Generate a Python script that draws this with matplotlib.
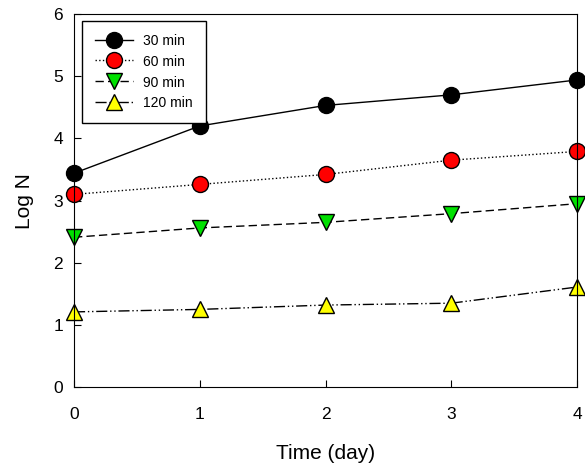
import matplotlib
matplotlib.use("Agg")
import matplotlib.pyplot as plt

plt.rcParams["font.family"] = ["Liberation Sans", "DejaVu Sans"]

days = [0, 1, 2, 3, 4]
log_n_30 = [3.44, 4.20, 4.53, 4.70, 4.94]
log_n_60 = [3.10, 3.26, 3.42, 3.65, 3.79]
log_n_90 = [2.41, 2.56, 2.65, 2.79, 2.95]
log_n_120 = [1.21, 1.25, 1.32, 1.35, 1.61]

fig = plt.figure(figsize=(5.85, 4.67), dpi=100)
ax = fig.add_axes([0.1265, 0.171, 0.860, 0.799])

ax.plot(days, log_n_30, color="black", linestyle="-", linewidth=1,
        marker="o", markersize=11.5, markerfacecolor="black",
        markeredgecolor="black", label="30 min", clip_on=False)
ax.plot(days, log_n_60, color="black", linestyle=":", linewidth=1,
        marker="o", markersize=11.5, markerfacecolor="red",
        markeredgecolor="black", label="60 min", clip_on=False)
ax.plot(days, log_n_90, color="black", linestyle=(0, (6, 3)), linewidth=1,
        marker="v", markersize=11.5, markerfacecolor="#00e000",
        markeredgecolor="black", label="90 min", clip_on=False)
ax.plot(days, log_n_120, color="black", linestyle=(0, (8, 2, 1, 2, 1, 2)),
        linewidth=1, marker="^", markersize=11.5, markerfacecolor="yellow",
        markeredgecolor="black", label="120 min", clip_on=False)

ax.set_xlim(0, 4)
ax.set_ylim(0, 6)
ax.set_xticks(days)
ax.set_yticks(range(0, 7))
ax.tick_params(direction="in", labelsize=12.5, length=5)
ax.tick_params(axis="y", pad=8)
ax.tick_params(axis="x", pad=14)
ax.set_xlabel("Time (day)", fontsize=15, labelpad=16)
ax.set_ylabel("Log N", fontsize=15, labelpad=14)

leg = ax.legend(loc="upper left", fontsize=10, frameon=True, fancybox=False,
                edgecolor="black", framealpha=1, handlelength=2.7,
                handleheight=1.0, handletextpad=0.75, borderpad=0.95,
                labelspacing=0.48, borderaxespad=0,
                bbox_to_anchor=(0.016, 0.981))
leg.get_frame().set_linewidth(1)

fig.savefig("out.png", dpi=100)
